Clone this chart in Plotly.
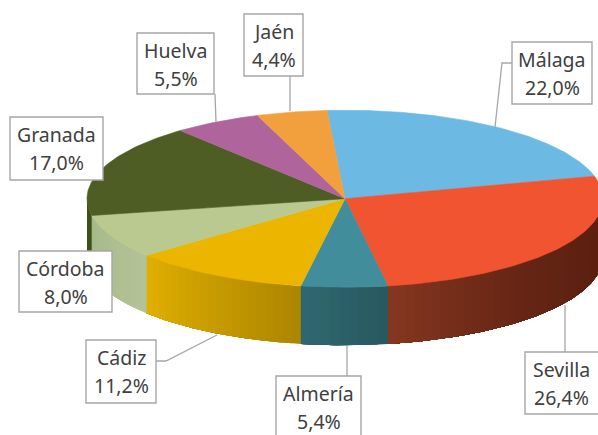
import math
import plotly.graph_objects as go

# --- data ---
names = ["Málaga", "Sevilla", "Almería", "Cádiz", "Córdoba", "Granada", "Huelva", "Jaén"]
values = [22.0, 26.4, 5.4, 11.2, 8.0, 17.0, 5.5, 4.4]
labels_pct = ["22,0%", "26,4%", "5,4%", "11,2%", "8,0%", "17,0%", "5,5%", "4,4%"]

# --- style ---
top_colors = ["#6cb9e3", "#f15430", "#418d9c", "#ecb500", "#b9c98f", "#4d5d24", "#af659c", "#f2a03d"]
wall_start = ["#6cb9e3", "#5c2010", "#285860", "#ad8600", "#b3c397", "#3c5118", "#af659c", "#f2a03d"]
wall_end = ["#6cb9e3", "#863721", "#30686f", "#e0af00", "#a6b98a", "#3c5118", "#af659c", "#f2a03d"]
wall_gamma = [1, 2.5, 1, 1, 1, 1, 1, 1]

CX, CY, RX, RY, DEPTH = 345.0, 198.7, 258.0, 88.5, 58.0
START_DEG = -4.0

boxes = {
    "Málaga": (512, 42, 592, 104),
    "Sevilla": (525, 352, 602, 414),
    "Almería": (276, 376, 361, 438),
    "Cádiz": (86, 340, 156, 403),
    "Córdoba": (19, 251, 112, 312),
    "Granada": (10, 117, 103, 180),
    "Huelva": (137, 33, 214, 94),
    "Jaén": (244, 14, 303, 76),
}
leaders = {
    "Málaga": [(512, 63), (502, 63), (495, 127)],
    "Sevilla": [(565, 305), (565, 352)],
    "Almería": [(347, 346), (347, 376)],
    "Cádiz": [(156, 361), (166, 361), (217, 335)],
    "Huelva": [(215, 94), (216, 122)],
    "Jaén": [(290, 76), (290, 111)],
}


def rim(deg):
    t = math.radians(deg)
    return CX + RX * math.sin(t), CY - RY * math.cos(t)


def hex_rgb(h):
    return tuple(int(h[i:i + 2], 16) for i in (1, 3, 5))


def mix(a, b, f):
    ca, cb = hex_rgb(a), hex_rgb(b)
    return "rgb(%d,%d,%d)" % tuple(round(x + (y - x) * f) for x, y in zip(ca, cb))


def arc(a, b, step=1.0):
    n = max(2, int(abs(b - a) / step) + 1)
    return [a + (b - a) * i / (n - 1) for i in range(n)]


def poly(xs, ys, color, lw=0.6):
    return go.Scatter(x=xs, y=ys, mode="lines", fill="toself", fillcolor=color,
                      line=dict(color=color, width=lw), hoverinfo="skip", showlegend=False)


fig = go.Figure()
total = sum(values)
edges = [START_DEG]
for v in values:
    edges.append(edges[-1] + 360.0 * v / total)

# side walls (front half of the disc); each strip runs to the slice end and is painted over by the next
for i in range(len(values)):
    a, b = max(edges[i], 90.0), min(edges[i + 1], 270.0)
    if b <= a:
        continue
    n = max(2, int((b - a) / 2.0))
    for k in range(n):
        s0 = a + (b - a) * k / n
        pts = [rim(d) for d in arc(s0, b, 0.5)]
        xs = [p[0] for p in pts] + [p[0] for p in reversed(pts)]
        ys = [p[1] for p in pts] + [p[1] + DEPTH for p in reversed(pts)]
        f = ((k + 0.5) / n) ** wall_gamma[i]
        fig.add_trace(poly(xs, ys, mix(wall_start[i], wall_end[i], f), lw=0))

# top face
for i in range(len(values)):
    pts = [rim(d) for d in arc(edges[i], edges[i + 1])]
    fig.add_trace(poly([CX] + [p[0] for p in pts] + [CX],
                       [CY] + [p[1] for p in pts] + [CY], top_colors[i]))

# leader lines
for name, pts in leaders.items():
    fig.add_trace(go.Scatter(x=[p[0] for p in pts], y=[p[1] for p in pts], mode="lines",
                             line=dict(color="#a6a6a6", width=1.3),
                             hoverinfo="skip", showlegend=False))

# label boxes and text
shapes, annotations = [], []
for name, pct in zip(names, labels_pct):
    x0, y0, x1, y1 = boxes[name]
    shapes.append(dict(type="rect", xref="x", yref="y", x0=x0, y0=y0, x1=x1, y1=y1,
                       fillcolor="white", line=dict(color="#a6a6a6", width=1.4), layer="above"))
    xc = (x0 + x1) / 2
    if name == "Sevilla":
        xc = 561.5
    if name == "Jaén":
        xc = 273.5
    for text, yc in ((name, y0 + 17), (pct, y0 + 45.5)):
        annotations.append(dict(x=xc, y=yc, xref="x", yref="y", text=text, showarrow=False,
                                xanchor="center", yanchor="middle",
                                font=dict(family="Noto Sans", size=19.5, color="#404040")))

fig.update_layout(
    width=598, height=435, margin=dict(l=0, r=0, t=0, b=0),
    paper_bgcolor="white", plot_bgcolor="white", showlegend=False,
    xaxis=dict(range=[0, 598], visible=False, fixedrange=True),
    yaxis=dict(range=[435, 0], visible=False, fixedrange=True),
    shapes=shapes, annotations=annotations,
)
fig.write_html("out.html", config={"displayModeBar": False},
               post_script="document.body.style.margin='0';document.documentElement.style.overflow='hidden';")
